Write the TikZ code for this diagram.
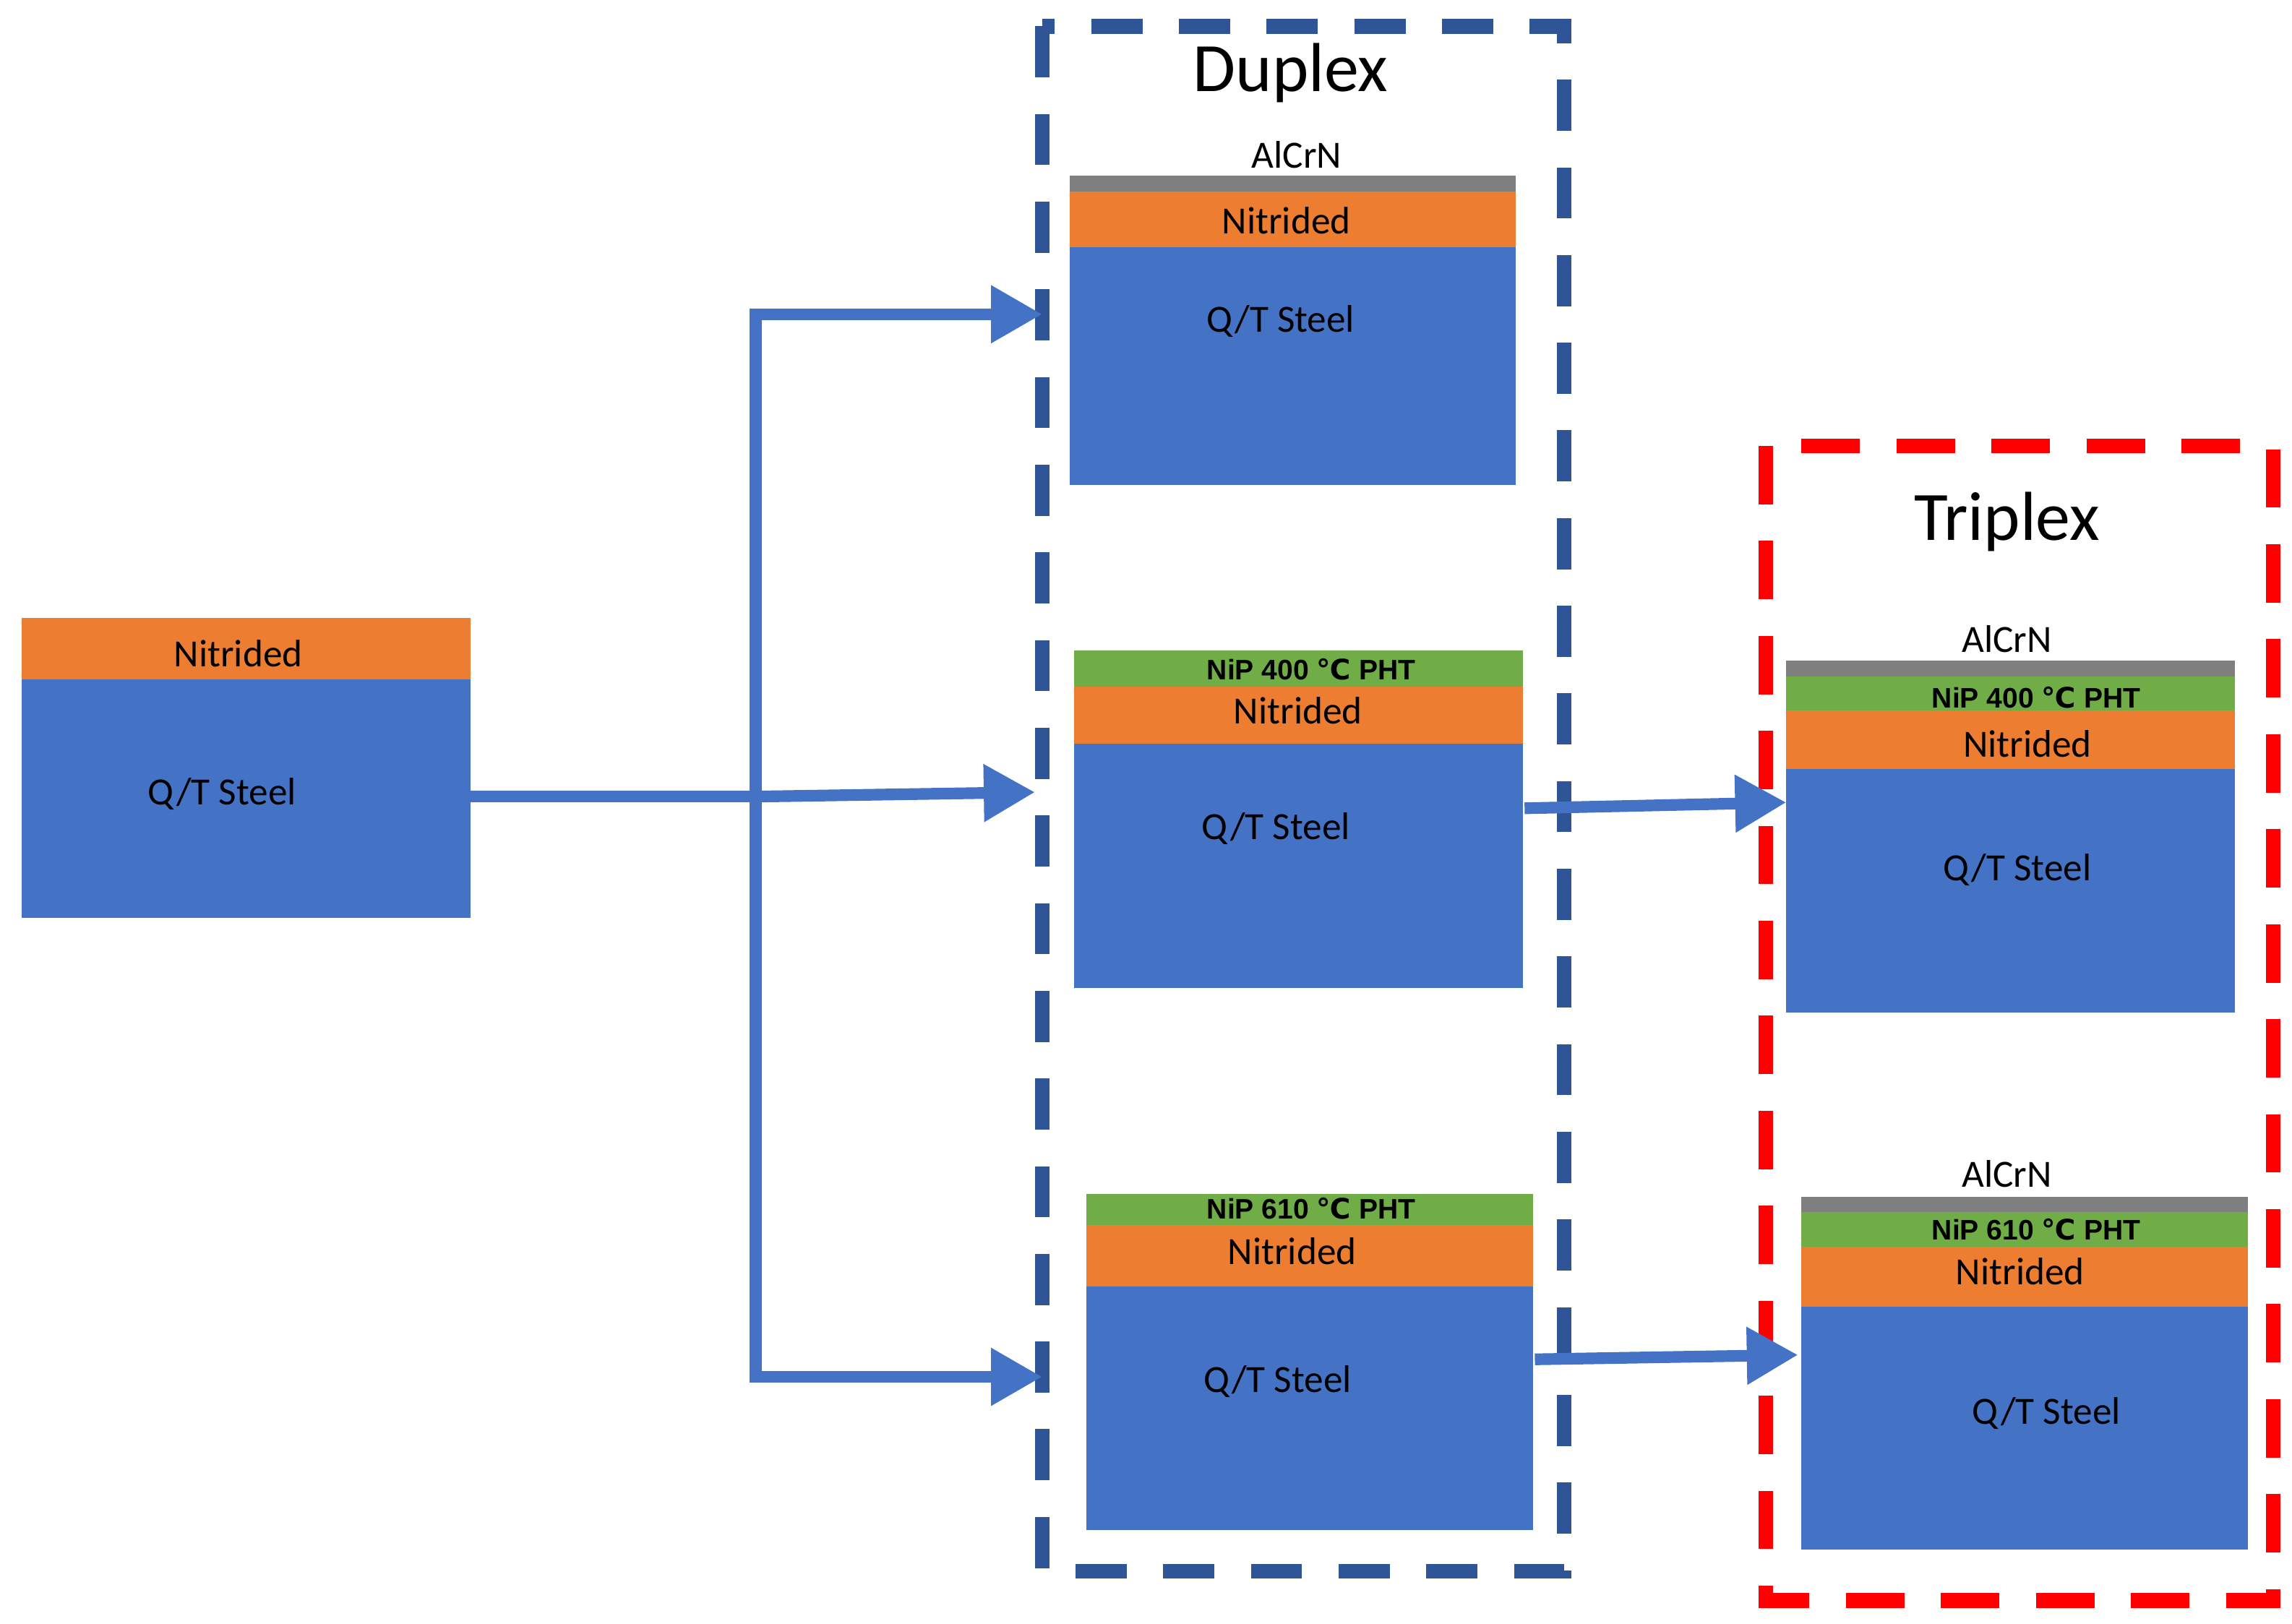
\documentclass[tikz,border=0pt]{standalone}
\usepackage{fontspec}
\setmainfont{Carlito}
\newfontfamily\arialf{Liberation Sans}
\newfontfamily\djv{DejaVu Sans}
\newcommand{\degc}{{\djv\bfseries ℃}}
\usetikzlibrary{arrows.meta}
\definecolor{stl}{HTML}{4472C4}
\definecolor{nit}{HTML}{ED7D31}
\definecolor{nip}{HTML}{70AD47}
\definecolor{alc}{HTML}{7F7F7F}
\definecolor{dup}{HTML}{2F5597}
\begin{document}
\begin{tikzpicture}[x=0.02cm,y=-0.02cm,
 lab/.style={font=\fontsize{15}{15}\selectfont},
 nipl/.style={font=\arialf\bfseries\fontsize{11}{11}\selectfont},
 tit/.style={font=\fontsize{27}{27}\selectfont},
 arr/.style={stl,line width=0.16cm,-{Triangle[length=0.7cm,width=0.75cm]}},
 ln/.style={stl,line width=0.16cm}]
\useasboundingbox (0,0) rectangle (1568,1111);
% dashed frames
\draw[dup,line width=0.2cm,dash pattern=on 0.7cm off 0.5cm] (713,18) rectangle (1070,1075);
\draw[red,line width=0.2cm,dash pattern=on 0.8cm off 0.5cm] (1208,305) rectangle (1555,1095);
\node[tit] (dt) at (883,50) {Duplex};
\node[tit] (tt) at (1373,357) {Triplex};
% left box
\fill[nit] (15,423) rectangle (322,465);
\fill[stl] (15,465) rectangle (322,628);
\node[lab] (l0) at (163,447) {Nitrided};
\node[lab] (s0) at (152,543) {Q/T Steel};
% box1
\fill[alc] (732,120) rectangle (1037,131);
\fill[nit] (732,131) rectangle (1037,169);
\fill[stl] (732,169) rectangle (1037,332);
\node[lab] (a1) at (887,106) {AlCrN};
\node[lab] (n1) at (880,151) {Nitrided};
\node[lab] (s1) at (876,220) {Q/T Steel};
% box2
\fill[nip] (735,445) rectangle (1042,470);
\fill[nit] (735,470) rectangle (1042,509);
\fill[stl] (735,509) rectangle (1042,676);
\node[nipl] (p2) at (897,458) {NiP 400 \degc{} PHT};
\node[lab] (n2) at (888,486) {Nitrided};
\node[lab] (s2) at (873,567) {Q/T Steel};
% box3
\fill[nip] (743,817) rectangle (1049,838);
\fill[nit] (743,838) rectangle (1049,880);
\fill[stl] (743,880) rectangle (1049,1047);
\node[nipl] (p3) at (897,827) {NiP 610 \degc{} PHT};
\node[lab] (n3) at (884,856) {Nitrided};
\node[lab] (s3) at (874,945) {Q/T Steel};
% box4
\fill[alc] (1222,452) rectangle (1529,463);
\fill[nip] (1222,463) rectangle (1529,486);
\fill[nit] (1222,486) rectangle (1529,526);
\fill[stl] (1222,526) rectangle (1529,693);
\node[lab] (a4) at (1373,437) {AlCrN};
\node[nipl] (p4) at (1393,477) {NiP 400 \degc{} PHT};
\node[lab] (n4) at (1387,509) {Nitrided};
\node[lab] (s4) at (1380,595) {Q/T Steel};
% box5
\fill[alc] (1232,819) rectangle (1538,829);
\fill[nip] (1232,829) rectangle (1538,853);
\fill[nit] (1232,853) rectangle (1538,894);
\fill[stl] (1232,894) rectangle (1538,1060);
\node[lab] (a5) at (1373,803) {AlCrN};
\node[nipl] (p5) at (1393,841) {NiP 610 \degc{} PHT};
\node[lab] (n5) at (1382,870) {Nitrided};
\node[lab] (s5) at (1400,967) {Q/T Steel};
% connectors
\coordinate (o0) at (322,545); \coordinate (j) at (517,545);
\coordinate (jt) at (517,215); \coordinate (jb) at (517,942);
\coordinate (e1) at (713,215); \coordinate (e2) at (708,542); \coordinate (e3) at (713,942);
\coordinate (o2) at (1043,553); \coordinate (e4) at (1222,549);
\coordinate (o3) at (1050,930); \coordinate (e5) at (1230,927);
\draw[ln] (o0) -- (j);
\draw[arr] (jb) -- (jt) -- (e1);
\draw[arr] (j) -- (e2);
\draw[arr] (j) -- (jb) -- (e3);
\draw[arr] (o2) -- (e4);
\draw[arr] (o3) -- (e5);
\end{tikzpicture}
\end{document}
